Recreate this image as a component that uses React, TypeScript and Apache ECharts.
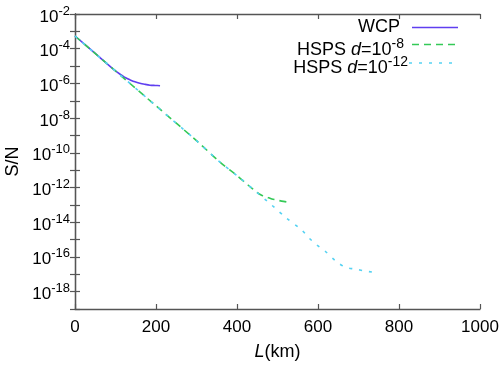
import React, { useEffect, useRef } from "react";
import * as echarts from "echarts";

// L (km) and S/N
const wcpL = [0, 50, 100, 115, 125, 136, 148, 160, 172, 185, 198, 210];
const wcpSN = [5.4e-4, 5.4e-5, 5.2e-6, 3.0e-6, 2.1e-6, 1.6e-6, 1.23e-6, 1.02e-6, 8.9e-7, 7.9e-7, 7.6e-7, 7.4e-7];

const hsps8L = [0, 100, 200, 300, 358, 400, 427, 440, 452, 462, 474, 486, 499, 510, 526];
const hsps8SN = [5.4e-4, 5.2e-6, 5.1e-8, 5.0e-10, 2.9e-11, 4.9e-12, 1.4e-12, 8.0e-13, 4.8e-13, 3.5e-13, 2.8e-13, 2.2e-13, 1.9e-13, 1.65e-13, 1.45e-13];

const hsps12L = [0, 100, 200, 300, 358, 400, 477, 494, 519, 560, 578, 597, 617, 644, 667, 691, 716, 733];
const hsps12SN = [5.4e-4, 5.2e-6, 5.1e-8, 5.0e-10, 2.9e-11, 4.9e-12, 1.45e-13, 6.6e-14, 2.0e-14, 3.5e-15, 1.23e-15, 4.9e-16, 2.2e-16, 5.8e-17, 2.6e-17, 2.0e-17, 1.55e-17, 1.35e-17];

const seriesNames = ["WCP", "HSPS d=10^-8", "HSPS d=10^-12"];
const xMin = 0;
const xMax = 1000;
const xInterval = 200;
const yMinExp = -19;
const yMaxExp = -2;

const FONT = "'Liberation Sans', Arial, Helvetica, sans-serif";
const C_WCP = "#5f3ff0";
const C_D8 = "#34c957";
const C_D12 = "#55d2f2";
const AXIS_C = "#555555";

const tickRich = {
  b: { fontSize: 17, fontFamily: FONT, color: "#000", verticalAlign: "bottom" as const },
  s: { fontSize: 13, fontFamily: FONT, color: "#000", padding: [0, 0, 8, 0] },
};
const legRich = {
  b: { fontSize: 18, fontFamily: FONT, color: "#000", verticalAlign: "bottom" as const },
  i: { fontSize: 18, fontFamily: FONT, color: "#000", fontStyle: "italic" as const, verticalAlign: "bottom" as const },
  s: { fontSize: 14, fontFamily: FONT, color: "#000", padding: [0, 0, 8, 0] },
};
const wcpRich = {
  b: { fontSize: 18, lineHeight: 12, fontFamily: FONT, color: "#000" },
};
const nameRich = {
  b: { fontSize: 18, fontFamily: FONT, color: "#000" },
  i: { fontSize: 18, fontFamily: FONT, color: "#000", fontStyle: "italic" as const },
};

function toPts(L: number[], v: number[]) {
  return L.map((x, i) => [x, Math.log10(v[i])]);
}

export default function App() {
  const ref = useRef<HTMLDivElement>(null);
  useEffect(() => {
    const chart = echarts.init(ref.current!, null, { renderer: "svg" });
    const axisLine = { show: true, lineStyle: { color: AXIS_C, width: 1.3 } };
    const tick = { show: true, inside: true, length: 5, lineStyle: { color: AXIS_C, width: 1.2 } };
    chart.setOption({
      animation: false,
      grid: { left: 75, right: 19, top: 14, bottom: 59, containLabel: false, outerBoundsMode: "none" },
      xAxis: [
        {
          type: "value",
          min: xMin,
          max: xMax,
          interval: xInterval,
          axisLine,
          axisTick: tick,
          splitLine: { show: false },
          axisLabel: {
            margin: 9,
            fontSize: 17,
            fontFamily: FONT,
            color: "#000",
            formatter: (v: number) => String(v),
          },
          name: "{i|L}{b|(km)}",
          nameLocation: "middle",
          nameGap: 33,
          nameTextStyle: { rich: nameRich, fontSize: 18, fontFamily: FONT, color: "#000" },
        },
        {
          type: "value",
          position: "top",
          min: xMin,
          max: xMax,
          interval: xInterval,
          axisLine,
          axisTick: tick,
          splitLine: { show: false },
          axisLabel: { show: false },
        },
      ],
      yAxis: [
        {
          type: "value",
          min: yMinExp,
          max: yMaxExp,
          interval: 1,
          axisLine,
          axisTick: tick,
          splitLine: { show: false },
          axisLabel: {
            margin: 5,
            rich: tickRich,
            formatter: (v: number) => {
              const e = Math.round(v);
              if (e % 2 !== 0) return "";
              return `{b|10}{s|${e}}`;
            },
          },
          name: "S/N",
          nameLocation: "middle",
          nameGap: 51,
          nameTextStyle: { fontSize: 18, fontFamily: FONT, color: "#000" },
        },
        {
          type: "value",
          position: "right",
          min: yMinExp,
          max: yMaxExp,
          interval: 1,
          axisLine,
          axisTick: tick,
          splitLine: { show: false },
          axisLabel: { show: false },
        },
      ],
      series: [
        {
          name: seriesNames[0],
          type: "line",
          data: toPts(wcpL, wcpSN),
          showSymbol: false,
          smooth: 0.3,
          lineStyle: { color: C_WCP, width: 1.6 },
          z: 2,
        },
        {
          name: seriesNames[1],
          type: "line",
          data: toPts(hsps8L, hsps8SN),
          showSymbol: false,
          smooth: 0.3,
          lineStyle: { color: C_D8, width: 1.6, type: [7, 5] },
          z: 3,
        },
        {
          name: seriesNames[2],
          type: "line",
          data: toPts(hsps12L, hsps12SN),
          showSymbol: false,
          smooth: 0.3,
          lineStyle: { color: C_D12, width: 1.6, type: [3, 7] },
          z: 4,
        },
      ],
      graphic: [
        {
          type: "text",
          x: 400,
          y: 25.5,
          style: { text: "{b|WCP}", rich: wcpRich, align: "right", verticalAlign: "middle" },
        },
        { type: "line", shape: { x1: 412, y1: 27.5, x2: 458, y2: 27.5 }, style: { stroke: C_WCP, lineWidth: 1.6 } },
        {
          type: "text",
          x: 404,
          y: 46.5,
          style: { text: "{b|HSPS }{i|d}{b|=10}{s|-8}", rich: legRich, align: "right", verticalAlign: "middle" },
        },
        { type: "line", shape: { x1: 412, y1: 44.5, x2: 458, y2: 44.5 }, style: { stroke: C_D8, lineWidth: 1.6, lineDash: [7, 5] } },
        {
          type: "text",
          x: 408,
          y: 65,
          style: { text: "{b|HSPS }{i|d}{b|=10}{s|-12}", rich: legRich, align: "right", verticalAlign: "middle" },
        },
        { type: "line", shape: { x1: 409, y1: 63, x2: 458, y2: 63 }, style: { stroke: C_D12, lineWidth: 1.6, lineDash: [3, 7] } },
      ],
    });
    return () => chart.dispose();
  }, []);
  return <div ref={ref} style={{ position: "fixed", left: 0, top: 0, width: 499, height: 368 }} />;
}
